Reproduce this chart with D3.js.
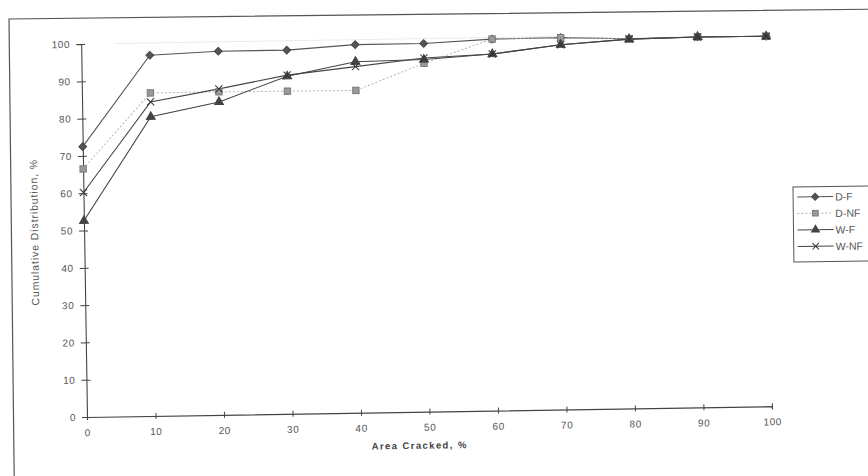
<!DOCTYPE html>
<html>
<head>
<meta charset="utf-8">
<script src="https://cdn.jsdelivr.net/npm/d3@7/dist/d3.min.js"></script>
<style>
  html, body { margin: 0; padding: 0; background: #fff; }
  svg { display: block; font-family: "Liberation Sans", Arial, sans-serif; }
</style>
</head>
<body>
<svg id="chart" width="868" height="476"></svg>
<script>
// ---- data ----
const areaCracked = [0, 10, 20, 30, 40, 50, 60, 70, 80, 90, 100];
const dF  = [72.5, 96.7, 97.5, 97.5, 98.7, 98.7, 99.6, 99.7, 99.1, 99.3, 99.2];
const dNF = [66.5, 86.6, 86.6, 86.5, 86.4, 93.4, 99.6, 99.7, 99.1, 99.3, 99.2];
const wF  = [52.6, 80.2, 83.9, 90.5, 94.1, 94.4, 95.6, 97.8, 99.0, 99.3, 99.2];
const wNF = [60.2, 84.2, 87.4, 90.8, 92.8, 94.8, 95.6, 97.8, 99.0, 99.3, 99.2];
const xTicks = [0, 10, 20, 30, 40, 50, 60, 70, 80, 90, 100];
const yTicks = [0, 10, 20, 30, 40, 50, 60, 70, 80, 90, 100];
const seriesNames = ["D-F", "D-NF", "W-F", "W-NF"];
const xTitle = "Area Cracked, %";
const yTitle = "Cumulative Distribution, %";

// ---- layout ----
const svg = d3.select("#chart");
const ox = 87, oy = 417, W = 685, H = 373;

// outer chart border (slightly skewed like the scan)
svg.append("g").attr("transform", "rotate(-0.65, 9, 19)")
  .append("rect")
  .attr("x", 9).attr("y", 19).attr("width", 900).attr("height", 500)
  .attr("fill", "none").attr("stroke", "#555").attr("stroke-width", 1.2);

const root = svg.append("g").attr("transform", `rotate(-0.9, ${ox}, ${oy})`);
const g = root.append("g").attr("transform", `translate(${ox},${oy - H})`);
const x = d3.scaleLinear().domain([0, 100]).range([0, W]);
const y = d3.scaleLinear().domain([0, 100]).range([H, 0]);

// faint gridline at top
g.append("line")
  .attr("x1", x(5)).attr("x2", x(70)).attr("y1", y(100)).attr("y2", y(100))
  .attr("stroke", "#ececec").attr("stroke-width", 1);

// axes
const xAxis = g.append("g").attr("transform", `translate(0,${H})`)
  .call(d3.axisBottom(x).tickValues(xTicks).tickSize(3).tickPadding(9).tickFormat(d3.format("d")));
xAxis.selectAll(".tick line").attr("y1", -3).attr("y2", 3).attr("stroke", "#444");
xAxis.select(".domain").attr("stroke", "#444").attr("stroke-width", 1.2);
xAxis.selectAll("text").attr("font-size", 10).attr("fill", "#555").attr("letter-spacing", 0.6)
  .attr("font-family", "Liberation Sans, Arial, sans-serif");

const yAxis = g.append("g")
  .call(d3.axisLeft(y).tickValues(yTicks).tickSize(4).tickPadding(7).tickFormat(d3.format("d")));
yAxis.selectAll(".tick line").attr("x1", -5).attr("x2", 4).attr("stroke", "#444");
yAxis.select(".domain").attr("stroke", "#444").attr("stroke-width", 1.1);
yAxis.selectAll("text").attr("font-size", 10).attr("fill", "#555").attr("letter-spacing", 0.6)
  .attr("font-family", "Liberation Sans, Arial, sans-serif");

// titles
g.append("text")
  .attr("x", x(48.5)).attr("y", H + 37)
  .attr("text-anchor", "middle").attr("font-size", 9.5).attr("font-weight", "bold")
  .attr("letter-spacing", 1.4).attr("fill", "#444").text(xTitle);
g.append("text")
  .attr("transform", `translate(${-46},${H / 2 + 1}) rotate(-90)`)
  .attr("text-anchor", "middle").attr("font-size", 10.5)
  .attr("letter-spacing", 0.9).attr("fill", "#555").text(yTitle);

// series
const series = [
  { name: seriesNames[0], values: dF,  line: "#555", width: 1.1, dash: null, sym: d3.symbolSquare, rot: 45, size: 30, fill: "#555", stroke: "#444" },
  { name: seriesNames[1], values: dNF, line: "#b5b5b5", width: 1, dash: "2,2", sym: d3.symbolSquare, rot: 0, size: 40, fill: "#9a9a9a", stroke: "#7a7a7a" },
  { name: seriesNames[2], values: wF,  line: "#444", width: 1.1, dash: null, sym: d3.symbolTriangle, rot: 0, size: 34, fill: "#444", stroke: "#444" },
  { name: seriesNames[3], values: wNF, line: "#444", width: 1.1, dash: null, sym: d3.symbolTimes, rot: 0, size: 36, fill: "none", stroke: "#333" }
];

const lineGen = d3.line().x((d, i) => x(areaCracked[i])).y(d => y(d));

series.forEach(s => {
  g.append("path").datum(s.values)
    .attr("d", lineGen).attr("fill", "none")
    .attr("stroke", s.line).attr("stroke-width", s.width)
    .attr("stroke-dasharray", s.dash);
});
series.forEach(s => {
  g.selectAll(null).data(s.values).enter().append("path")
    .attr("transform", (d, i) => `translate(${x(areaCracked[i])},${y(d)}) rotate(${s.rot})`)
    .attr("d", d3.symbol().type(s.sym).size(s.size))
    .attr("fill", s.fill).attr("stroke", s.stroke).attr("stroke-width", 1);
});

// legend
const lg = svg.append("g").attr("transform", "translate(793,187) rotate(-0.7)");
lg.append("rect").attr("x", 0).attr("y", 0).attr("width", 100).attr("height", 75)
  .attr("fill", "#fff").attr("stroke", "#555").attr("stroke-width", 1);
series.forEach((s, i) => {
  const yy = 10 + i * 16.5;
  lg.append("line").attr("x1", 4).attr("x2", 40).attr("y1", yy).attr("y2", yy)
    .attr("stroke", s.line).attr("stroke-width", s.width).attr("stroke-dasharray", s.dash);
  lg.append("path").attr("transform", `translate(22,${yy}) rotate(${s.rot})`)
    .attr("d", d3.symbol().type(s.sym).size(s.size * 0.8))
    .attr("fill", s.fill).attr("stroke", s.stroke).attr("stroke-width", 1);
  lg.append("text").attr("x", 42).attr("y", yy + 4)
    .attr("font-size", 10.5).attr("fill", "#555").text(s.name);
});
</script>
</body>
</html>
